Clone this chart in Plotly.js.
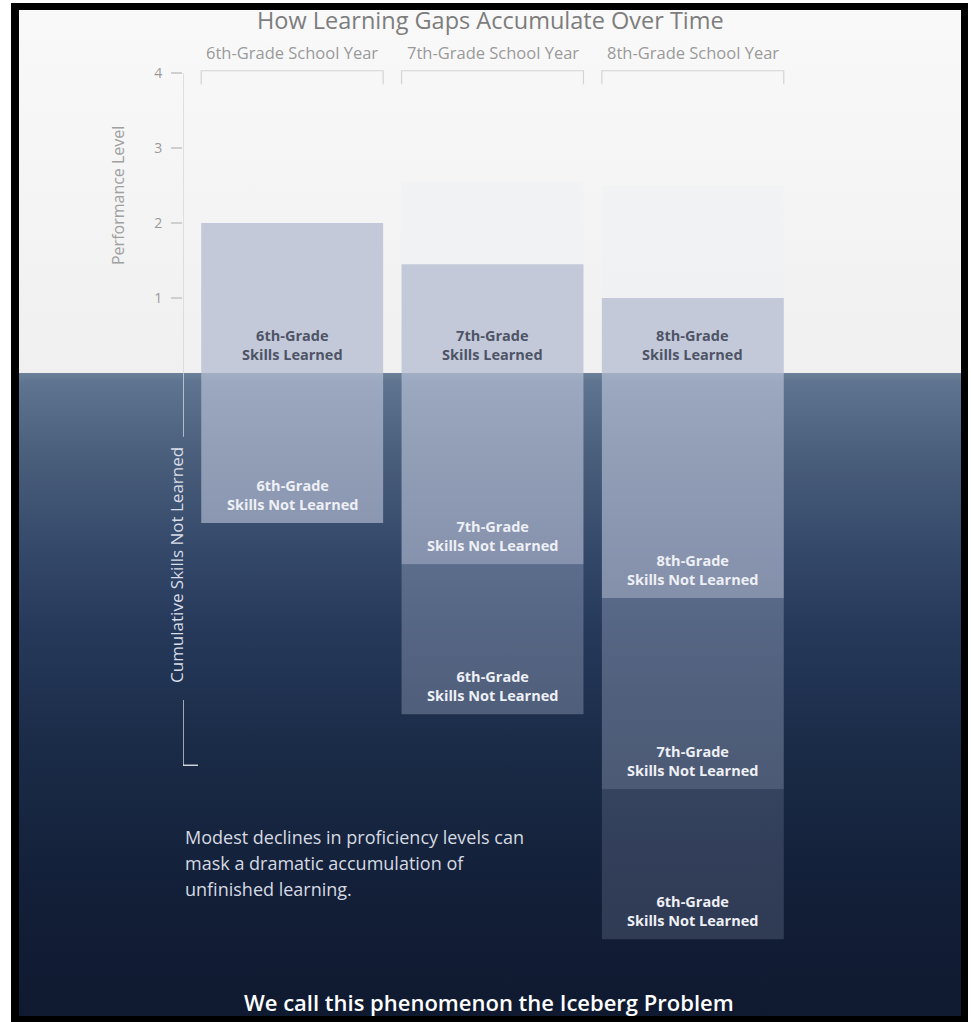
<!DOCTYPE html>
<html>
<head>
<meta charset="utf-8">
<script src="https://cdn.plot.ly/plotly-3.0.1.min.js"></script>
<style>
  html, body { margin: 0; padding: 0; background: #ffffff; width: 971px; height: 1022px; overflow: hidden; }
  #frame {
    position: absolute; left: 11px; top: 3px; width: 942px; height: 1006px;
    border-left: 8px solid #000; border-top: 7px solid #000; border-right: 7px solid #000; border-bottom: 8px solid #000;
    background: linear-gradient(to bottom,
      #f9f9f9 0px, #f0f0f0 363px,
      #6d8199 363px, #5f7490 372px, #4b607c 440px, #34486a 540px, #26395a 620px,
      #1a2b47 740px, #131f38 880px, #0f1a30 1006px);
  }
  #chart { position: absolute; left: 0; top: 0; width: 971px; height: 1022px; }
</style>
</head>
<body>
<div id="frame"></div>
<div id="chart"></div>
<script>
// ---- data ----
const years = ["6th-Grade School Year", "7th-Grade School Year", "8th-Grade School Year"];
const gradeNames = ["6th-Grade", "7th-Grade", "8th-Grade"];
const learned = [2.0, 1.45, 1.0];              // performance level reached (skills learned)
const ghostAbove = [0, 1.1, 1.5];              // faint trace of previous level
const notLearned8th = [null, null, 3.0];       // cumulative gaps by grade of origin
const notLearned7th = [null, 2.55, 2.55];
const notLearned6th = [2.0, 2.0, 2.0];
const yTicks = [1, 2, 3, 4];

// ---- styling ----
const FONT = "Open Sans, Lato, sans-serif";
const cLearned = "#c4c9da";
const cLight = "rgba(205,212,232,0.55)";
const cMed = "rgba(170,180,205,0.36)";
const cDark = "rgba(150,160,190,0.23)";
const xIdx = [0, 1, 2];
const neg = a => a.map(v => v == null ? null : -v);

const traces = [
  { type: "bar", x: xIdx, y: learned, marker: { color: cLearned, line: { width: 0 } }, hoverinfo: "skip" },
  { type: "bar", x: xIdx, y: ghostAbove, marker: { color: "rgba(232,234,240,0.16)", line: { width: 0 } }, hoverinfo: "skip" },
  { type: "bar", x: xIdx, y: neg(notLearned8th), marker: { color: [cLight, cLight, cLight], line: { width: 0 } }, hoverinfo: "skip" },
  { type: "bar", x: xIdx, y: neg(notLearned7th), marker: { color: [cLight, cLight, cMed], line: { width: 0 } }, hoverinfo: "skip" },
  { type: "bar", x: xIdx, y: neg(notLearned6th), marker: { color: [cLight, cMed, cDark], line: { width: 0 } }, hoverinfo: "skip" }
];

// ---- annotations ----
const ann = [];
const XL = -0.545;
const half = 0.454;
function barLabel(i, yBottom, l1, l2, color) {
  ann.push({ x: i, y: yBottom, xref: "x", yref: "y", yanchor: "middle", yshift: 28, showarrow: false,
    text: "<b>" + l1 + "<br>" + l2 + "</b>", font: { family: FONT, size: 14.5, color: color } });
}
// bar labels: learned
learned.forEach((v, i) => barLabel(i, 0, gradeNames[i], "Skills Learned", "#4d5466"));
// bar labels: not learned segments (stack order from waterline down)
const stacks = [notLearned8th, notLearned7th, notLearned6th];
const stackNames = ["8th-Grade", "7th-Grade", "6th-Grade"];
xIdx.forEach(i => {
  let cum = 0;
  stacks.forEach((s, k) => {
    if (s[i] == null) return;
    cum += s[i];
    barLabel(i, -cum, stackNames[k], "Skills Not Learned", "#eef0f5");
  });
});
// group (year) labels
years.forEach((t, i) => {
  ann.push({ x: i, y: 4.27, xref: "x", yref: "y", showarrow: false, text: t,
    font: { family: FONT, size: 16.5, color: "#9a9a9a" } });
});
// title
ann.push({ x: 0.99, y: 4.71, xref: "x", yref: "y", showarrow: false, text: "How Learning Gaps Accumulate Over Time",
  font: { family: FONT, size: 23.5, color: "#7d7d7d" } });
// axis titles
ann.push({ x: XL, y: 2.36, xref: "x", yref: "y", xshift: -65, showarrow: false, textangle: -90,
  text: "Performance Level", font: { family: FONT, size: 16, color: "#a0a0a0" } });
ann.push({ x: XL, y: -2.56, xref: "x", yref: "y", xshift: -7, showarrow: false, textangle: -90,
  text: "Cumulative Skills Not Learned", font: { family: FONT, size: 17, color: "#d8dde8" } });
// note text
["Modest declines in proficiency levels can", "mask a dramatic accumulation of", "unfinished learning."].forEach((t, k) => {
  ann.push({ x: XL, y: -6.18 - k * 0.347, xref: "x", yref: "y", xanchor: "left", showarrow: false, text: t,
    font: { family: FONT, size: 18, color: "#d6dae2" } });
});
// footer
ann.push({ x: 0.98, y: -8.39, xref: "x", yref: "y", showarrow: false,
  text: "We call this phenomenon the Iceberg Problem",
  font: { family: FONT, size: 22, color: "#ffffff", weight: 600 } });

// ---- shapes ----
const shapes = [];
const gray = "#cfcfcf";
// upper axis line
shapes.push({ type: "line", xref: "x", yref: "y", x0: XL, x1: XL, y0: 4, y1: 0, line: { color: gray, width: 1.2 } });
// lower axis line pieces
const wl = "#e6e9f0";
shapes.push({ type: "line", xref: "x", yref: "y", x0: XL, x1: XL, y0: 0, y1: -0.85, line: { color: wl, width: 1.3 } });
shapes.push({ type: "line", xref: "x", yref: "y", x0: XL, x1: XL, y0: -4.36, y1: -5.23, line: { color: wl, width: 1.3 } });
shapes.push({ type: "line", xref: "x", yref: "y", x0: XL, x1: XL + 0.075, y0: -5.23, y1: -5.23, line: { color: wl, width: 1.3 } });
// brackets
xIdx.forEach(i => {
  shapes.push({ type: "path", xref: "x", yref: "y",
    path: `M ${i - half} 3.85 L ${i - half} 4.03 L ${i + half} 4.03 L ${i + half} 3.85`,
    line: { color: "#d4d4d4", width: 1.2 } });
});

const layout = {
  width: 971, height: 1022,
  margin: { l: 183, r: 177.5, t: 7, b: 4 },
  paper_bgcolor: "rgba(0,0,0,0)",
  plot_bgcolor: "rgba(0,0,0,0)",
  barmode: "relative",
  bargap: 0.092,
  showlegend: false,
  xaxis: { range: [-0.545, 2.5], visible: false, fixedrange: true },
  yaxis: { range: [-8.6, 4.88], tickvals: yTicks, ticktext: yTicks.map(String), ticks: "outside", ticklen: 11,
    tickcolor: gray, tickwidth: 1.2, showgrid: false, zeroline: false, showline: false, ticklabelstandoff: 6,
    tickfont: { family: FONT, size: 14, color: "#9a9a9a" }, fixedrange: true },
  annotations: ann,
  shapes: shapes
};

Plotly.newPlot("chart", traces, layout, { displayModeBar: false, staticPlot: true });
</script>
</body>
</html>
